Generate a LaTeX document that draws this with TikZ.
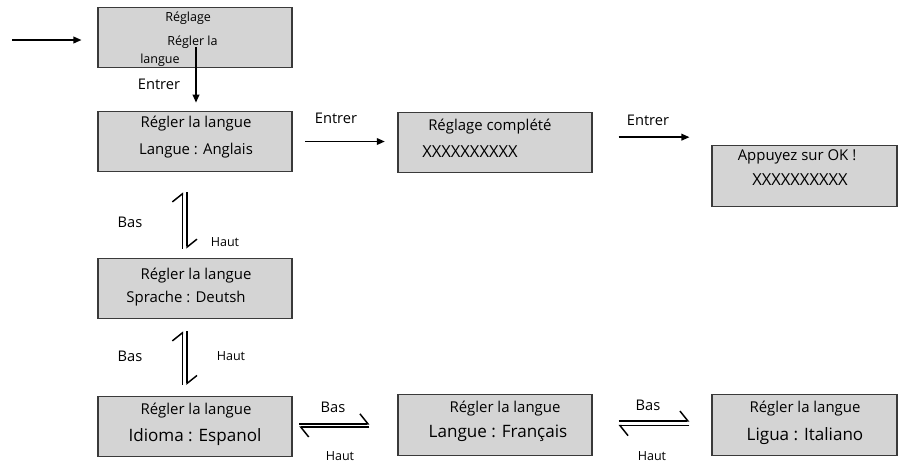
\documentclass[tikz,border=0pt]{standalone}
\usepackage{fontspec}
\setmainfont{Open Sans}
\usetikzlibrary{positioning,arrows.meta,calc}
\definecolor{screen}{HTML}{D4D4D4}
\definecolor{frame}{HTML}{3A3A3A}

\begin{document}
\begin{tikzpicture}[x=0.75pt,y=-0.75pt,
          box/.style={draw=frame,fill=screen,line width=0.8pt,minimum width=145.5pt,minimum height=45.5pt,inner sep=0pt},
          wbox/.style={box,minimum width=138.75pt},
          txt/.style={font=\fontsize{11.2}{13}\selectfont,inner sep=0pt},
          big/.style={font=\fontsize{12.8}{15}\selectfont,inner sep=0pt},
          xs/.style={font=\fontsize{12.4}{14}\selectfont,inner sep=0pt},
          tiny/.style={font=\fontsize{9.4}{11}\selectfont,inner sep=0pt},
          lbl/.style={font=\fontsize{11}{13}\selectfont,inner sep=0pt},
          sml/.style={font=\fontsize{9.4}{11}\selectfont,inner sep=0pt},
          arr/.style={line width=1.1pt,-{Triangle[length=6pt,width=5pt]}},
          harp/.style={line width=1.1pt,-{Straight Barb[harpoon,length=6pt,width=15pt]}}]
        \useasboundingbox (0,0) rectangle (901,462);
        % screens
        \node[box]  (reglage)  at (195,37.5){};
        \node[box]  (anglais)  at (195,141.5){};
        \node[box]  (complete) at (495,142.5){};
        \node[wbox] (ok)       at (804.5,176){};
        \node[box]  (deutsch)  at (195,288.5){};
        \node[box]  (espanol)  at (195,426.5){};
        \node[box]  (francais) at (495,425){};
        \node[wbox] (italiano) at (804.5,425){};
        % screen texts
        \node[tiny,anchor=west] (r1) at (165,18){Réglage};
        \node[tiny,anchor=west] (r2) at (167,42){Régler la};
        \node[tiny,anchor=west] (r3) at (140,60){langue};
        \node[txt] (a1) at (196,124){Régler la langue};
        \node[txt] (a2) at (196,151){Langue : Anglais};
        \node[txt,anchor=west] (c1) at (428,127){Réglage complété};
        \node[xs,anchor=west] (c2) at (422,152){XXXXXXXXXX};
        \node[txt] (o1) at (797,157){Appuyez sur OK !};
        \node[xs] (o2) at (800,180){XXXXXXXXXX};
        \node[txt] (d1) at (196,276){Régler la langue};
        \node[txt] (d2) at (186,299){Sprache : Deutsh};
        \node[txt] (e1) at (196,411){Régler la langue};
        \node[big] (e2) at (195,437){Idioma : Espanol};
        \node[txt] (f1) at (505,409){Régler la langue};
        \node[big] (f2) at (498,433){Langue : Français};
        \node[txt] (i1) at (805,409){Régler la langue};
        \node[big] (i2) at (805,436){Ligua : Italiano};
        % arrows
        \coordinate (start) at (12,40);
        \coordinate (down) at (196,47);
        \draw[arr,shorten >=12pt] (start) -- (start -| reglage.west);
        \draw[arr,shorten >=6pt] (down) -- (down |- anglais.north);
        \draw[arr,shorten <=9.5pt,shorten >=9.5pt] (anglais.east) -- (anglais.east -| complete.west);
        \draw[arr,shorten <=19.5pt,shorten >=16.5pt] ([yshift=4pt]complete.east) -- ([yshift=4pt]complete.east -| ok.west);
        \node[lbl] (en1) at (159,84){Entrer};
        \node[lbl] (en2) at (336,118){Entrer};
        \node[lbl] (en3) at (648,120){Entrer};
        % up / down
        \draw[harp,shorten <=6.75pt,shorten >=15pt] ([xshift=-9.5pt]deutsch.north) -- ([xshift=-9.5pt]anglais.south);
        \draw[harp,shorten <=15pt,shorten >=6.75pt] ([xshift=-6pt]anglais.south) -- ([xshift=-6pt]deutsch.north);
        \draw[harp,shorten <=8pt,shorten >=9pt] ([xshift=-9.5pt]espanol.north) -- ([xshift=-9.5pt]deutsch.south);
        \draw[harp,shorten <=9pt,shorten >=8pt] ([xshift=-6pt]deutsch.south) -- ([xshift=-6pt]espanol.north);
        \node[lbl] (b1) at (130,222){Bas};
        \node[sml] (h1) at (225,242){Haut};
        \node[lbl] (b2) at (130,356){Bas};
        \node[sml] (h2) at (231,356){Haut};
        % left / right
        \draw[harp,shorten <=5pt,shorten >=21pt] ([yshift=2pt]espanol.east) -- ([yshift=2pt]espanol.east -| francais.west);
        \draw[harp,shorten <=21pt,shorten >=5pt] ([yshift=-1.5pt]francais.west) -- ([yshift=-1.5pt]francais.west -| espanol.east);
        \draw[harp,shorten <=19.5pt,shorten >=16.5pt] ([yshift=3pt]francais.east) -- ([yshift=3pt]francais.east -| italiano.west);
        \draw[harp,shorten <=16.5pt,shorten >=19.5pt] ([yshift=-0.5pt]italiano.west) -- ([yshift=-0.5pt]italiano.west -| francais.east);
        \node[lbl] (b3) at (333,407){Bas};
        \node[sml] (h3) at (340,456){Haut};
        \node[lbl] (b4) at (648,405){Bas};
        \node[sml] (h4) at (652,456){Haut};
\end{tikzpicture}
\end{document}
